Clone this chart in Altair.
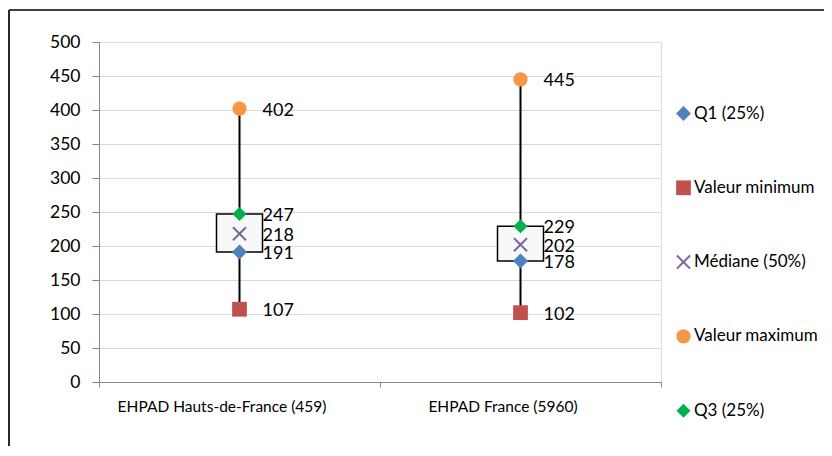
import altair as alt
import pandas as pd

categories = ["EHPAD Hauts-de-France (459)", "EHPAD France (5960)"]
series = ["Q1 (25%)", "Valeur minimum", "Médiane (50%)", "Valeur maximum", "Q3 (25%)"]
q1 = [191, 178]
vmin = [107, 102]
median = [218, 202]
vmax = [402, 445]
q3 = [247, 229]
y_ticks = [0, 50, 100, 150, 200, 250, 300, 350, 400, 450, 500]

colors = ["#4F81BD", "#C0504D", "#8064A2", "#F79646", "#00B050"]
x_path = ("M-0.8,-1L0,-0.2L0.8,-1L1,-0.8L0.2,0L1,0.8L0.8,1L0,0.2L-0.8,1L-1,0.8"
          "L-0.2,0L-1,-0.8Z")
shapes = ["diamond", "square", x_path, "circle", "diamond"]
sizes = [225, 196, 169, 196, 121]

box_df = pd.DataFrame({"cat": categories, "q1": q1, "q3": q3, "vmin": vmin, "vmax": vmax})
rows = []
for i, c in enumerate(categories):
    for s, vals in zip(series, [q1, vmin, median, vmax, q3]):
        rows.append({"cat": c, "series": s, "value": vals[i]})
pts = pd.DataFrame(rows)

FONT = "Lato"
xaxis = alt.Axis(labelAngle=0, tickBand="extent", labelFontSize=15.5, labelOffset=-18,
                 labelLimit=400, labelPadding=12, tickSize=5, labelColor="#000",
                 domainColor="#868686", tickColor="#868686", grid=False)
xscale = alt.Scale(paddingInner=0, paddingOuter=0)
yaxis = alt.Axis(values=y_ticks, labelFontSize=17.5, labelColor="#000",
                 labelOverlap=False, tickSize=7, labelPadding=12,
                 domainColor="#868686", tickColor="#868686", gridColor="#D9D9D9")
yscale = alt.Scale(domain=[0, 500])


def X():
    return alt.X("cat:N", sort=categories, title=None, scale=xscale, axis=xaxis)


def Y(f):
    return alt.Y(f, scale=yscale, title=None, axis=yaxis)


frame_top = alt.Chart(box_df).mark_rule(color="#000", strokeWidth=1.2).encode(
    x=alt.value(-90), x2=alt.value(760), y=alt.value(-32))
frame_left = alt.Chart(box_df).mark_rule(color="#000", strokeWidth=1.2).encode(
    x=alt.value(-90), y=alt.value(-32), y2=alt.value(460))

whisker = alt.Chart(box_df).mark_rule(color="#000", strokeWidth=2).encode(
    x=X(), y=Y("vmin:Q"), y2="vmax:Q")

box = alt.Chart(box_df).mark_bar(size=46, fill="#F8F8F8", stroke="#000", strokeWidth=1.5).encode(
    x=X(), y=Y("q1:Q"), y2="q3:Q")

points = alt.Chart(pts).mark_point(filled=True, opacity=1).encode(
    x=X(),
    y=Y("value:Q"),
    color=alt.Color("series:N", sort=series,
                    scale=alt.Scale(domain=series, range=colors), title=None),
    shape=alt.Shape("series:N", sort=series,
                    scale=alt.Scale(domain=series, range=shapes), title=None),
    size=alt.Size("series:N", sort=series,
                  scale=alt.Scale(domain=series, range=sizes), title=None),
)

labels = alt.Chart(pts).mark_text(align="left", baseline="middle", dx=23, dy=2, fontSize=18,
                                   font=FONT, color="#000").encode(
    x=X(), y=Y("value:Q"), text="value:Q")

chart = alt.layer(frame_top, frame_left, whisker, box, points, labels).properties(
    width=562, height=340,
    autosize=alt.AutoSizeParams(type="none"),
    padding={"left": 91, "top": 34, "right": 163, "bottom": 64},
).configure_view(stroke=None).configure(font=FONT).configure_legend(
    orient="none", legendX=576, legendY=63, padding=0, rowPadding=56.3,
    labelFontSize=17, labelColor="#000", labelOffset=2, symbolStrokeWidth=0,
)

chart.save("out.html", embed_options={"renderer": "svg", "actions": False})
